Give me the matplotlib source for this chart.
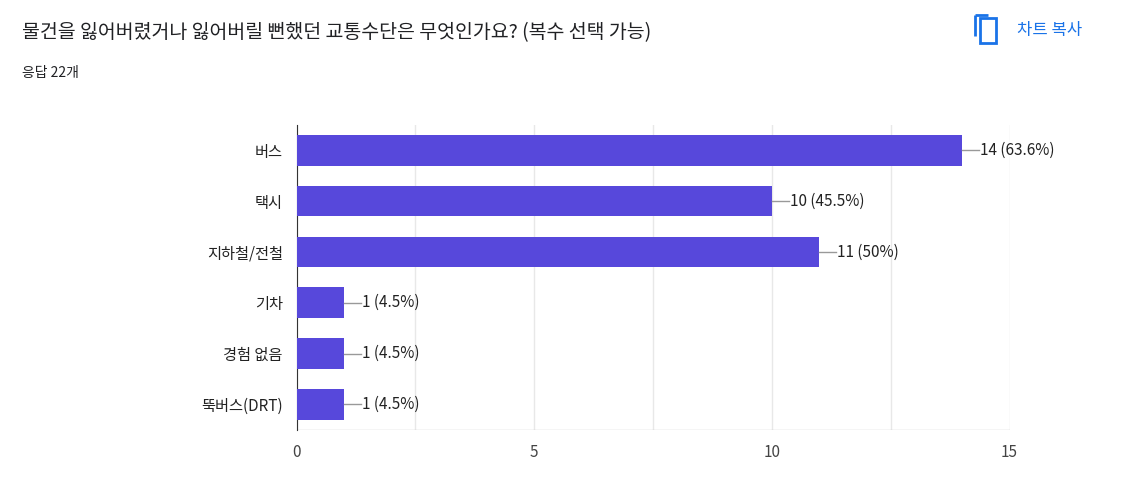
import matplotlib
matplotlib.use("Agg")
import matplotlib.pyplot as plt
from matplotlib.patches import Rectangle

plt.rcParams['font.family'] = ['Noto Sans CJK KR', 'DejaVu Sans']

categories = ["버스", "택시", "지하철/전철", "기차", "경험 없음", "뚝버스(DRT)"]
counts = [14, 10, 11, 1, 1, 1]
pct_labels = ["63.6%", "45.5%", "50%", "4.5%", "4.5%", "4.5%"]
xticks = [0, 5, 10, 15]

fig = plt.figure(figsize=(11.28, 4.84), dpi=100)
ax = fig.add_axes([0.263, 0.112, 0.632, 0.630])
ypos = list(range(len(categories)))
ax.barh(ypos, counts, height=0.6, color="#5748DB", zorder=3)
ax.set_ylim(len(categories) - 0.5, -0.5)
ax.set_xlim(0, 15)
ax.set_yticks(ypos)
ax.set_yticklabels(categories, fontsize=11, color="#222222")
ax.set_xticks(xticks)
ax.set_xticks([2.5, 7.5, 12.5], minor=True)
ax.set_xticklabels([str(t) for t in xticks], fontsize=11, color="#444444")
ax.tick_params(axis='both', length=0, pad=10)
ax.tick_params(axis='x', which='minor', length=0)
ax.grid(axis='x', which='both', color="#e8e8e8", lw=1, zorder=0)
for s in ["top", "right", "bottom"]:
    ax.spines[s].set_visible(False)
ax.spines["left"].set_color("#333333")
ax.axhline(len(categories) - 0.5, color="#cccccc", lw=1)

for y, c, p in zip(ypos, counts, pct_labels):
    ax.plot([c, c + 0.35], [y, y], color="#999999", lw=1, zorder=4)
    ax.text(c + 0.37, y, f"{c} ({p})", va="center", ha="left", fontsize=11, color="#222222")

fig.text(0.0195, 0.932, "물건을 잃어버렸거나 잃어버릴 뻔했던 교통수단은 무엇인가요? (복수 선택 가능)",
         fontsize=14, color="#202124", va="center")
fig.text(0.0195, 0.849, "응답 22개", fontsize=10, color="#202124", va="center")
fig.text(0.902, 0.938, "차트 복사", fontsize=12, color="#1a73e8", va="center")
# copy icon
fig.patches.append(Rectangle((0.869, 0.912), 0.014, 0.05, transform=fig.transFigure,
                             fill=False, ec="#1a73e8", lw=2))
fig.patches.append(Rectangle((0.864, 0.925), 0.0, 0.045, transform=fig.transFigure,
                             fill=False, ec="#1a73e8", lw=2))
fig.patches.append(Rectangle((0.864, 0.97), 0.012, 0.0, transform=fig.transFigure,
                             fill=False, ec="#1a73e8", lw=2))
fig.savefig("out.png", dpi=100)
